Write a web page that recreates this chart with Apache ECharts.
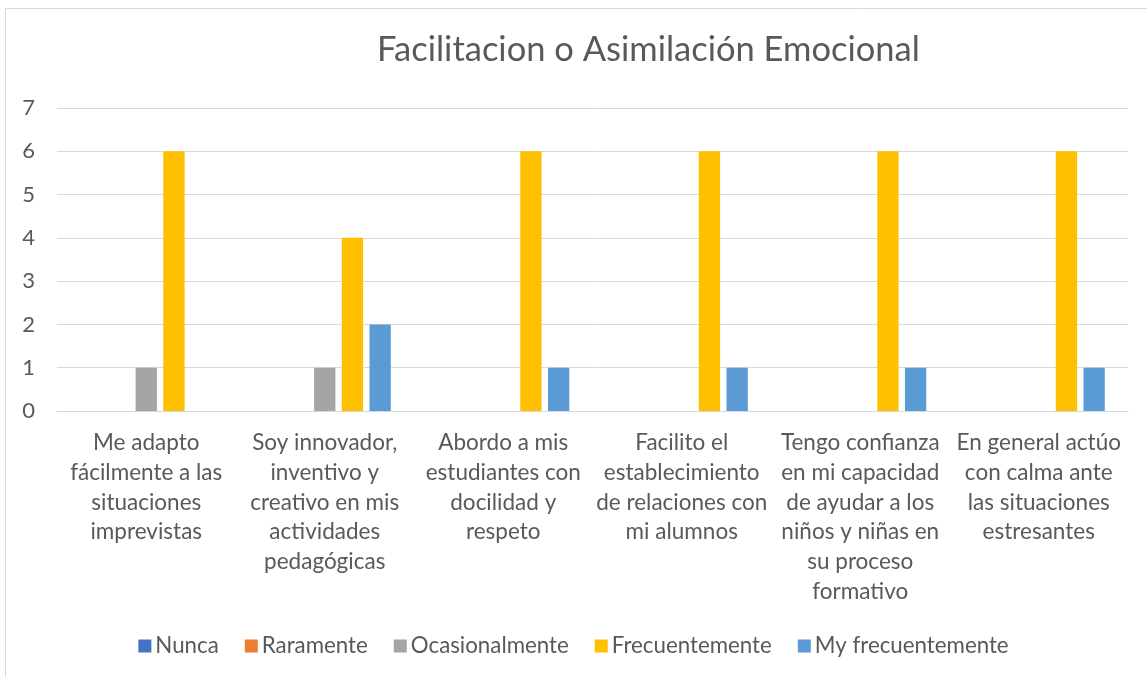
<!DOCTYPE html>
<html>
<head>
<meta charset="utf-8">
<script src="https://cdn.jsdelivr.net/npm/echarts@6/dist/echarts.min.js"></script>
<style>html,body{margin:0;padding:0;background:#fff;}#c{width:1147px;height:677px;}</style>
</head>
<body>
<div id="c"></div>
<script>
const title = 'Facilitacion o Asimilación Emocional';
const categories = [
  'Me adapto\nfácilmente a las\nsituaciones\nimprevistas',
  'Soy innovador,\ninventivo y\ncreativo en mis\nactividades\npedagógicas',
  'Abordo a mis\nestudiantes con\ndocilidad y\nrespeto',
  'Facilito el\nestablecimiento\nde relaciones con\nmi alumnos',
  'Tengo confianza\nen mi capacidad\nde ayudar a los\nniños y niñas en\nsu proceso\nformativo',
  'En general actúo\ncon calma ante\nlas situaciones\nestresantes'
];
const seriesNames = ['Nunca', 'Raramente', 'Ocasionalmente', 'Frecuentemente', 'My frecuentemente'];
const nunca = [0, 0, 0, 0, 0, 0];
const raramente = [0, 0, 0, 0, 0, 0];
const ocasionalmente = [1, 1, 0, 0, 0, 0];
const frecuentemente = [6, 4, 6, 6, 6, 6];
const myFrecuentemente = [0, 2, 1, 1, 1, 1];
const yTicks = [0, 1, 2, 3, 4, 5, 6, 7];
const colors = ['#4472C4', '#ED7D31', '#A5A5A5', '#FFC000', '#5B9BD5'];

const allData = [nunca, raramente, ocasionalmente, frecuentemente, myFrecuentemente];
const FONT = 'Lato';
const chart = echarts.init(document.getElementById('c'), null, {renderer: 'canvas'});
chart.setOption({
  animation: false,
  backgroundColor: '#fff',
  color: colors,
  textStyle: {fontFamily: FONT},
  title: {
    text: title,
    left: 372,
    top: 27,
    textStyle: {fontFamily: FONT, fontSize: 34.5, fontWeight: 'normal', color: '#595959'}
  },
  graphic: [{
    type: 'rect',
    shape: {x: 5.5, y: 8.5, width: 1200, height: 700},
    style: {fill: 'none', stroke: '#d9d9d9', lineWidth: 1},
    silent: true
  }],
  legend: {
    data: seriesNames,
    left: 'center',
    top: 630,
    itemWidth: 13,
    itemHeight: 13,
    itemGap: 26,
    icon: 'rect',
    textStyle: {fontFamily: FONT, fontSize: 22.3, color: '#595959', padding: [0, 0, 0, -1]}
  },
  grid: {left: 57, right: 19, top: 108, bottom: 266, containLabel: false},
  xAxis: {
    type: 'category',
    data: categories,
    axisLine: {show: true, lineStyle: {color: '#d9d9d9', width: 1}},
    axisTick: {show: false},
    axisLabel: {
      interval: 0,
      margin: 17,
      fontFamily: FONT,
      fontSize: 22.5,
      lineHeight: 29.7,
      color: '#595959',
      align: 'center'
    }
  },
  yAxis: {
    type: 'value',
    min: yTicks[0],
    max: yTicks[yTicks.length - 1],
    interval: 1,
    axisLine: {show: false},
    axisTick: {show: false},
    splitLine: {lineStyle: {color: '#d9d9d9', width: 1}},
    axisLabel: {margin: 22, fontFamily: FONT, fontSize: 22, color: '#595959'}
  },
  series: seriesNames.map((n, i) => ({
    name: n,
    type: 'bar',
    data: allData[i],
    barGap: '30%',
    barCategoryGap: '26%',
    itemStyle: {color: colors[i]}
  }))
});
</script>
</body>
</html>
